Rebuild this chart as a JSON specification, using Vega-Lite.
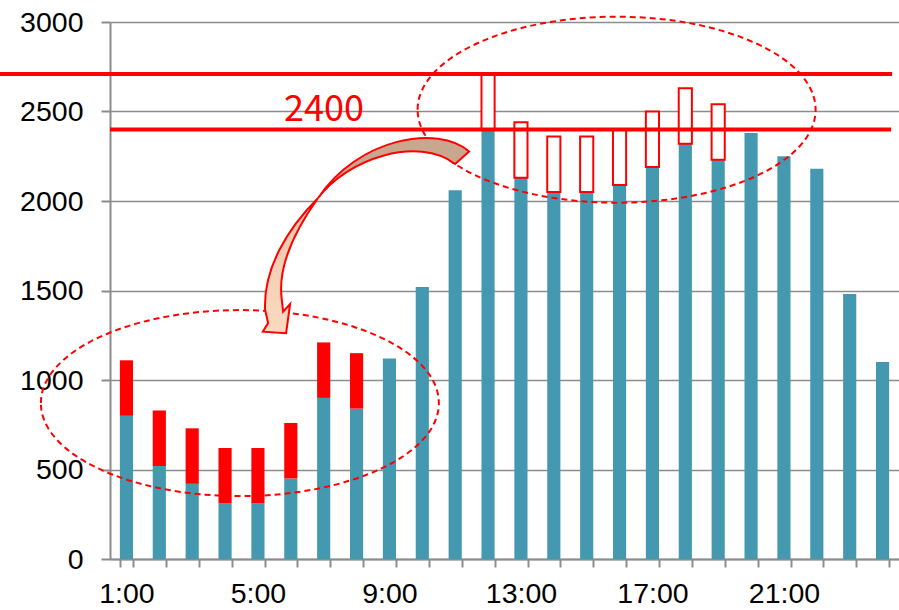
{
  "$schema": "https://vega.github.io/schema/vega-lite/v6.json",
  "width": 789,
  "height": 537,
  "autosize": {"type": "none"},
  "padding": {"left": 110, "top": 22, "right": 0, "bottom": 51},
  "background": "white",
  "config": {
    "view": {"stroke": null},
    "font": "Liberation Sans"
  },
  "datasets": {
    "hourly": [
      {"hour": "1:00", "load": 800, "shifted": 1110, "kind": "night"},
      {"hour": "2:00", "load": 520, "shifted": 830, "kind": "night"},
      {"hour": "3:00", "load": 420, "shifted": 730, "kind": "night"},
      {"hour": "4:00", "load": 310, "shifted": 620, "kind": "night"},
      {"hour": "5:00", "load": 310, "shifted": 620, "kind": "night"},
      {"hour": "6:00", "load": 450, "shifted": 760, "kind": "night"},
      {"hour": "7:00", "load": 900, "shifted": 1210, "kind": "night"},
      {"hour": "8:00", "load": 840, "shifted": 1150, "kind": "night"},
      {"hour": "9:00", "load": 1120, "shifted": null, "kind": "none"},
      {"hour": "10:00", "load": 1520, "shifted": null, "kind": "none"},
      {"hour": "11:00", "load": 2060, "shifted": null, "kind": "none"},
      {"hour": "12:00", "load": 2400, "shifted": 2710, "kind": "day"},
      {"hour": "13:00", "load": 2130, "shifted": 2440, "kind": "day"},
      {"hour": "14:00", "load": 2050, "shifted": 2360, "kind": "day"},
      {"hour": "15:00", "load": 2050, "shifted": 2360, "kind": "day"},
      {"hour": "16:00", "load": 2090, "shifted": 2400, "kind": "day"},
      {"hour": "17:00", "load": 2190, "shifted": 2500, "kind": "day"},
      {"hour": "18:00", "load": 2320, "shifted": 2630, "kind": "day"},
      {"hour": "19:00", "load": 2230, "shifted": 2540, "kind": "day"},
      {"hour": "20:00", "load": 2380, "shifted": null, "kind": "none"},
      {"hour": "21:00", "load": 2250, "shifted": null, "kind": "none"},
      {"hour": "22:00", "load": 2180, "shifted": null, "kind": "none"},
      {"hour": "23:00", "load": 1480, "shifted": null, "kind": "none"},
      {"hour": "24:00", "load": 1100, "shifted": null, "kind": "none"}
    ],
    "limits": [
      {"name": "cap", "ax": -3.35, "ax2": 23.79, "ay": 2710},
      {"name": "target", "ax": 0, "ax2": 23.76, "ay": 2400}
    ],
    "circles": [
      {"name": "night", "ax": 3.95, "ay": 871},
      {"name": "day", "ax": 15.41, "ay": 2510}
    ],
    "arrow": [
      {"ax": 6.33, "ay": 2017}
    ],
    "label": [
      {"ax": 6.51, "ay": 2449, "text": "2400"}
    ]
  },
  "layer": [
    {
      "data": {"name": "hourly"},
      "encoding": {
        "x": {
          "field": "hour",
          "type": "ordinal",
          "sort": null,
          "scale": {"paddingInner": 0.6, "paddingOuter": 0.3},
          "axis": {
            "title": null,
            "tickBand": "extent",
            "grid": false,
            "domainColor": "#8c8c8c",
            "domainWidth": 2,
            "tickColor": "#8c8c8c",
            "tickWidth": 2,
            "tickSize": 8,
            "labelFontSize": 28.5,
            "labelColor": "#000000",
            "labelPadding": 12,
            "labelAngle": 0,
            "labelOverlap": false,
            "labelExpr": "indexof(['1:00','5:00','9:00','13:00','17:00','21:00'], datum.label) >= 0 ? datum.label : ''"
          }
        }
      },
      "layer": [
        {
          "mark": {"type": "bar", "fill": "#4499b1"},
          "encoding": {
            "y": {
              "field": "load",
              "type": "quantitative",
              "scale": {"domain": [0, 3000], "nice": false},
              "axis": {
                "title": null,
                "values": [0, 500, 1000, 1500, 2000, 2500, 3000],
                "format": "d",
                "grid": true,
                "gridColor": "#8c8c8c",
                "gridWidth": 1.5,
                "domainColor": "#8c8c8c",
                "domainWidth": 2,
                "tickColor": "#8c8c8c",
                "tickWidth": 2,
                "tickSize": 9,
                "labelFontSize": 28.5,
                "labelColor": "#000000",
                "labelPadding": 18
              }
            }
          }
        },
        {
          "transform": [{"filter": "datum.kind === 'night'"}],
          "mark": {"type": "bar", "fill": "#ff0000"},
          "encoding": {
            "y": {"field": "load", "type": "quantitative", "title": null},
            "y2": {"field": "shifted"}
          }
        },
        {
          "transform": [{"filter": "datum.kind === 'day'"}],
          "mark": {"type": "bar", "fill": "#ffffff", "stroke": "#ff0000", "strokeWidth": 2},
          "encoding": {
            "y": {"field": "load", "type": "quantitative", "title": null},
            "y2": {"field": "shifted"}
          }
        }
      ]
    },
    {
      "encoding": {
        "x": {
          "field": "ax",
          "type": "quantitative",
          "scale": {"domain": [0, 24], "nice": false, "zero": false},
          "axis": null
        },
        "y": {"field": "ay", "type": "quantitative", "title": null}
      },
      "layer": [
        {
          "data": {"name": "limits"},
          "mark": {"type": "rule", "stroke": "#ff0000", "strokeWidth": 4},
          "encoding": {
            "x2": {"field": "ax2"}
          }
        },
        {
          "data": {"name": "circles"},
          "mark": {
            "type": "point",
            "shape": "M-199,0C-199,-51.4,-109.9,-93,0,-93C109.9,-93,199,-51.4,199,0C199,51.4,109.9,93,0,93C-109.9,93,-199,51.4,-199,0Z",
            "size": 4,
            "filled": false,
            "stroke": "#ff0000",
            "strokeWidth": 2,
            "strokeDash": [6, 4],
            "opacity": 1
          }
        },
        {
          "data": {"name": "arrow"},
          "mark": {
            "type": "point",
            "shape": "M151,-46.5C120,-74,40,-60,0,0C30,-40,100,-62,137,-34Z",
            "size": 4,
            "filled": true,
            "fill": "#c9a78e",
            "stroke": "#ff0000",
            "strokeWidth": 2,
            "opacity": 1
          }
        },
        {
          "data": {"name": "arrow"},
          "mark": {
            "type": "point",
            "shape": "M0,0C-30,30,-55,70,-53,112L-50,125L-55.3,133.7L-32,135.3L-28,106L-35,113.7L-36.5,100C-40,70,-25,35,0,0Z",
            "size": 4,
            "filled": true,
            "fill": {
              "gradient": "linear",
              "x1": 0, "y1": 0, "x2": 0, "y2": 1,
              "stops": [
                {"offset": 0, "color": "#e9c6aa"},
                {"offset": 1, "color": "#fddabf"}
              ]
            },
            "stroke": "#ff0000",
            "strokeWidth": 2,
            "opacity": 1
          }
        },
        {
          "data": {"name": "label"},
          "mark": {
            "type": "text",
            "font": "Noto Sans CJK JP",
            "fontSize": 36,
            "fill": "#ff0000",
            "align": "center",
            "baseline": "alphabetic"
          },
          "encoding": {
            "text": {"field": "text"}
          }
        }
      ]
    }
  ],
  "resolve": {
    "scale": {"x": "independent"},
    "axis": {"x": "independent"}
  }
}
